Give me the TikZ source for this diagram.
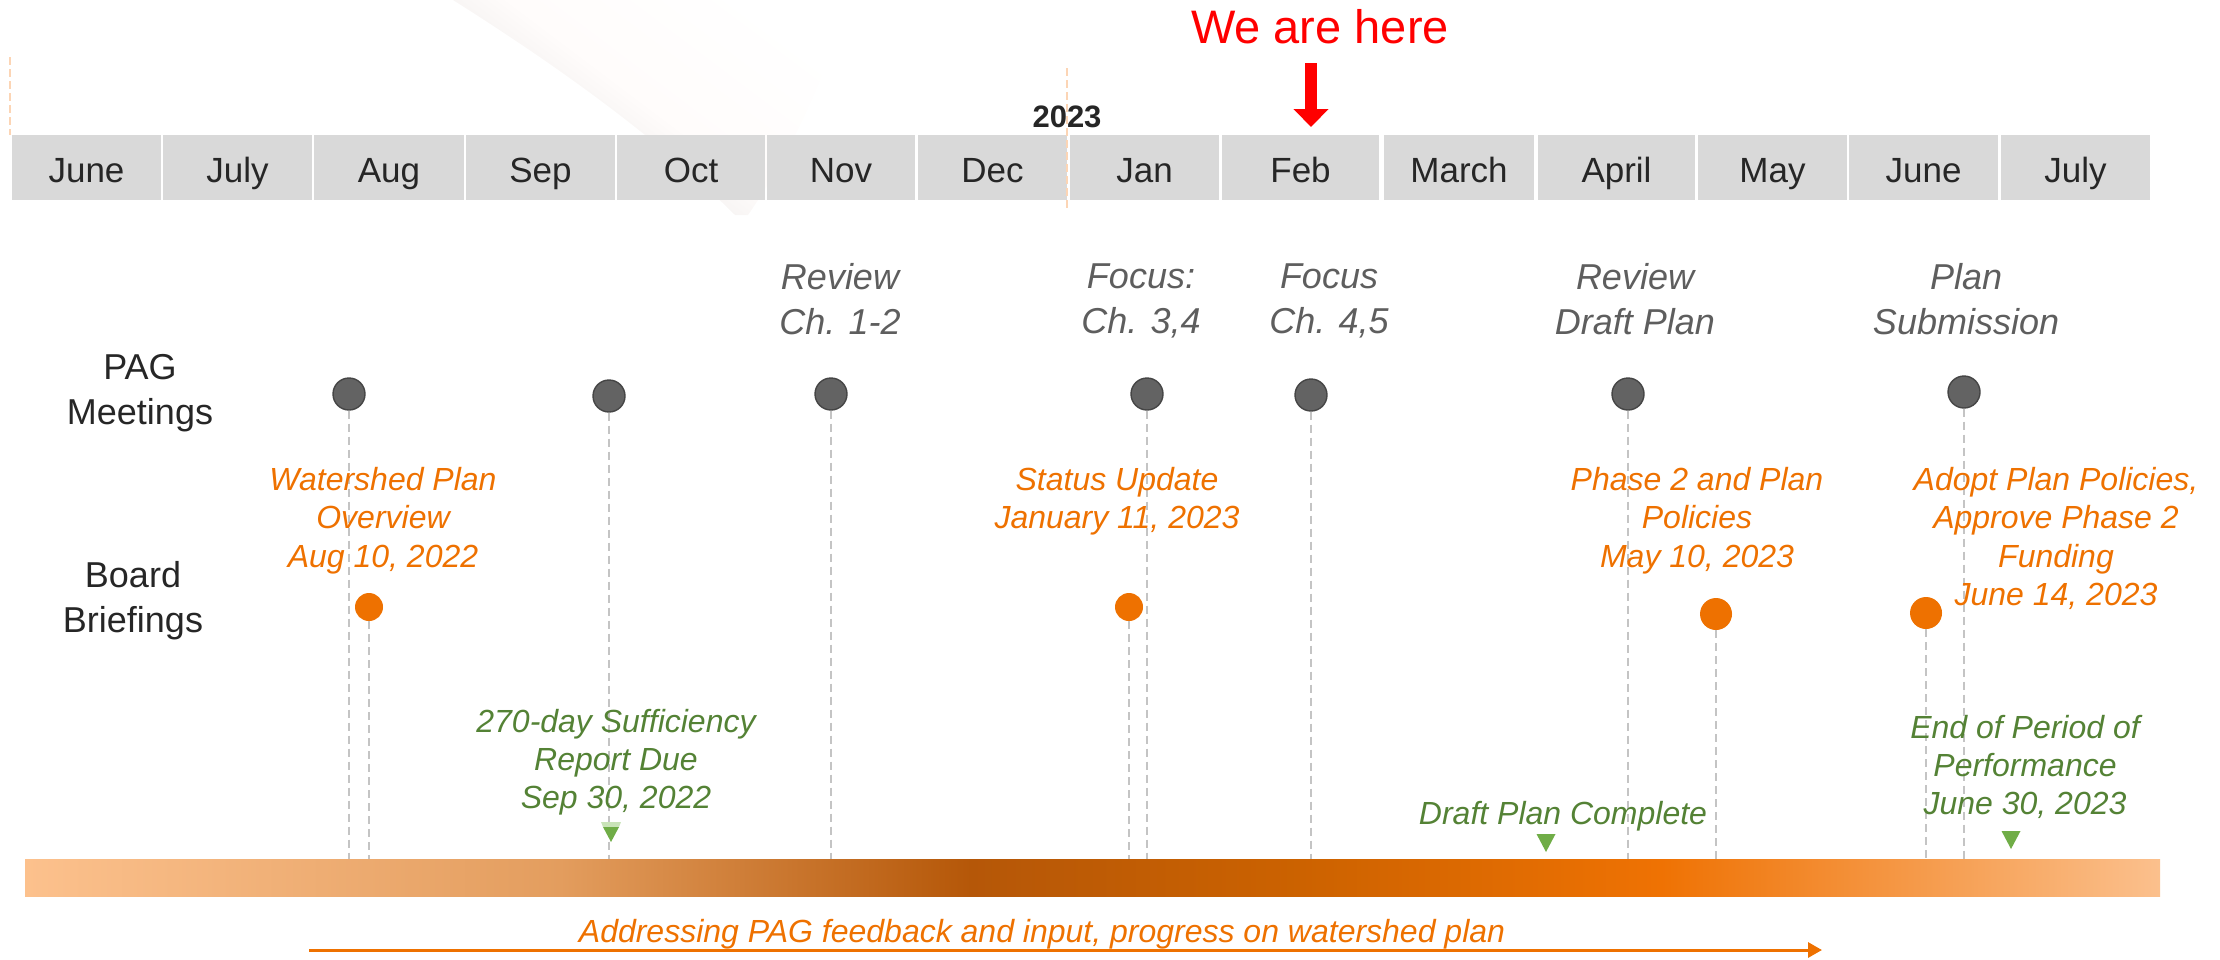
\documentclass[tikz,border=0pt]{standalone}
\usepackage{fontspec}
\setmainfont{Liberation Sans}
\usetikzlibrary{arrows.meta}
\newcommand\myfs[2]{\fontsize{#1}{#2}\selectfont}
\definecolor{cellgray}{HTML}{D9D9D9}
\definecolor{montxt}{HTML}{262626}
\definecolor{labgray}{HTML}{5E5E5E}
\definecolor{dotgray}{HTML}{636363}
\definecolor{dotedge}{HTML}{454545}
\definecolor{orng}{HTML}{EE7100}
\definecolor{grn}{HTML}{548235}
\definecolor{grntri}{HTML}{70AD47}
\definecolor{lgreen}{HTML}{C9E3B8}
\definecolor{dashgray}{HTML}{C4C4C4}
\definecolor{peach}{HTML}{FCD5B5}
\definecolor{redd}{HTML}{FF0000}
\definecolor{swA}{HTML}{E2E0DF}
\definecolor{swB}{HTML}{FFFCFB}
\definecolor{bA}{HTML}{FCC18D}
\definecolor{bB}{HTML}{E39D5E}
\definecolor{bC}{HTML}{B55708}
\definecolor{bD}{HTML}{CC6200}
\definecolor{bE}{HTML}{EF7203}
\definecolor{bF}{HTML}{FBC08D}
\begin{document}
\begin{tikzpicture}[x=0.5pt,y=-0.5pt,
  cell/.style={fill=cellgray, minimum height=32.5pt, inner sep=0pt,
    text height=17.5pt, text depth=3pt, text=montxt, font={\myfs{17.5}{21}}},
  pagdot/.style={circle, fill=dotgray, draw=dotedge, line width=0.7pt, minimum size=16pt, inner sep=0pt},
  brfdot/.style={circle, fill=orng, minimum size=#1, inner sep=0pt},
  dashline/.style={draw=dashgray, line width=0.75pt, dash pattern=on 4pt off 2.5pt},
  rowlab/.style={anchor=north, inner sep=0pt, align=center, text=montxt, font={\myfs{18}{22.5}}},
  glab/.style={anchor=north, inner sep=0pt, align=center, text=labgray, font={\myfs{18}{22.5}\itshape}},
  olab/.style={anchor=north, inner sep=0pt, align=center, text=orng, font={\myfs{16}{19.25}\itshape}},
  gnlab/.style={anchor=north, inner sep=0pt, align=center, text=grn, font={\myfs{16}{19}\itshape}},
  gtri/.style={fill=grntri}
]
\useasboundingbox (0,0) rectangle (2220,959);

% faint background swoosh
\shade[left color=swA, right color=white, middle color=swB, shading angle=143]
  (453,0) .. controls (540,55) and (650,130) .. (735,215) -- (748,215) .. controls (800,140) and (830,60) .. (850,0) -- cycle;

% month bar
\foreach \c/\w/\t [count=\i] in {86.5/74.5/June, 237.5/74.5/July, 389/75/Aug, 540.5/74.5/Sep, 691/74/Oct, 841/74/Nov, 992.5/74.5/Dec, 1144.5/74.5/Jan, 1300.5/78.5/Feb, 1459/75/March, 1616.5/78.5/April, 1772.5/74.5/May, 1923.5/74.5/June, 2075.5/74.5/July}
  \node[cell, minimum width=\w pt] (m\i) at (\c,167.5) {\t};

% faint year markers
\coordinate (yA1) at (10,57);  \coordinate (yA2) at (10,135);
\coordinate (yB1) at (1067,68); \coordinate (yB2) at (1067,208);
\draw[peach, line width=0.6pt, dash pattern=on 4pt off 2pt] (yA1) -- (yA2);
\draw[peach, line width=0.6pt, dash pattern=on 4pt off 2pt] (yB1) -- (yB2);

\node[anchor=base, inner sep=0pt, text=montxt, font={\myfs{15.5}{18}\bfseries}] (yr) at (1067,127) {2023};

% we are here
\node[anchor=base, inner sep=0pt, text=redd, font={\myfs{23.5}{27}}] (here) at (1320,43) {We are here};
\coordinate (arS) at (1311,63);
\coordinate (arE) at (1311,127);
\draw[redd, line width=6pt, -{Triangle[length=9pt,width=17pt]}] (arS) -- (arE);

% PAG dots and their lines
\foreach \x/\y [count=\i] in {349/394, 609/396, 831/394, 1147/394, 1311/395, 1628/394, 1964/392}{
  \node[pagdot] (p\i) at (\x,\y) {};
  \coordinate (pb\i) at (\x,859);
  \draw[dashline] (p\i) -- (pb\i);
}
% board briefing dots and lines
\foreach \x/\y/\s [count=\i] in {369/607/14pt, 1129/607/14pt, 1716/614/16pt, 1926/613/16pt}{
  \node[brfdot=\s] (b\i) at (\x,\y) {};
  \coordinate (bb\i) at (\x,859);
  \draw[dashline] (b\i) -- (bb\i);
}

% row labels
\node[rowlab] (pagl) at (140,354) {PAG\\Meetings};
\node[rowlab] (brdl) at (133,561) {Board\\Briefings};

% PAG topics
\node[glab] (g3) at (840,263) {Review\\Ch. 1-2};
\node[glab] (g4) at (1141,263) {Focus:\\Ch. 3,4};
\node[glab] (g5) at (1329,263) {Focus\\Ch. 4,5};
\node[glab] (g6) at (1635,263) {Review\\Draft Plan};
\node[glab] (g7) at (1966,263) {Plan\\Submission};

% board topics
\node[olab] (o1) at (383,466.5) {Watershed Plan\\Overview\\Aug 10, 2022};
\node[olab] (o2) at (1117,466.5) {Status Update\\January 11, 2023};
\node[olab] (o3) at (1697,466.5) {Phase 2 and Plan\\Policies\\May 10, 2023};
\node[olab] (o4) at (2056,466.5) {Adopt Plan Policies,\\Approve Phase 2\\Funding\\June 14, 2023};

% green milestones
\node[gnlab] (n1) at (616,708.5) {270-day Sufficiency\\Report Due\\Sep 30, 2022};
\node[gnlab] (n2) at (1563,800.5) {Draft Plan Complete};
\node[gnlab] (n3) at (2025,714.5) {End of Period of\\Performance\\June 30, 2023};

% triangles
\fill[lgreen] (601,822) -- (621,822) -- (619,827) -- (603,827) -- cycle;
\fill[gtri] (603,827) -- (619,827) -- (611,842) -- cycle;
\fill[gtri] (1536.5,834) -- (1555.5,834) -- (1546,852) -- cycle;
\fill[gtri] (2001.5,831) -- (2020.5,831) -- (2011,849) -- cycle;

% gradient timeline bar
\shade[left color=bA, right color=bB] (25,859) rectangle (561,896);
\shade[left color=bB, right color=bC] (560,859) rectangle (971,896);
\shade[left color=bC, right color=bD] (970,859) rectangle (1301,896);
\shade[left color=bD, right color=bE] (1300,859) rectangle (1662,896);
\shade[left color=bE, right color=bF] (1661,859) rectangle (2160,896);

% bottom progress arrow
\node[olab] (prog) at (1042,918.5) {Addressing PAG feedback and input, progress on watershed plan};
\coordinate (pgS) at (309,950);
\coordinate (pgE) at (1822,950);
\draw[orng, line width=1.5pt, -{Triangle[length=7pt,width=7.5pt]}] (pgS) -- (pgE);
\end{tikzpicture}
\end{document}
